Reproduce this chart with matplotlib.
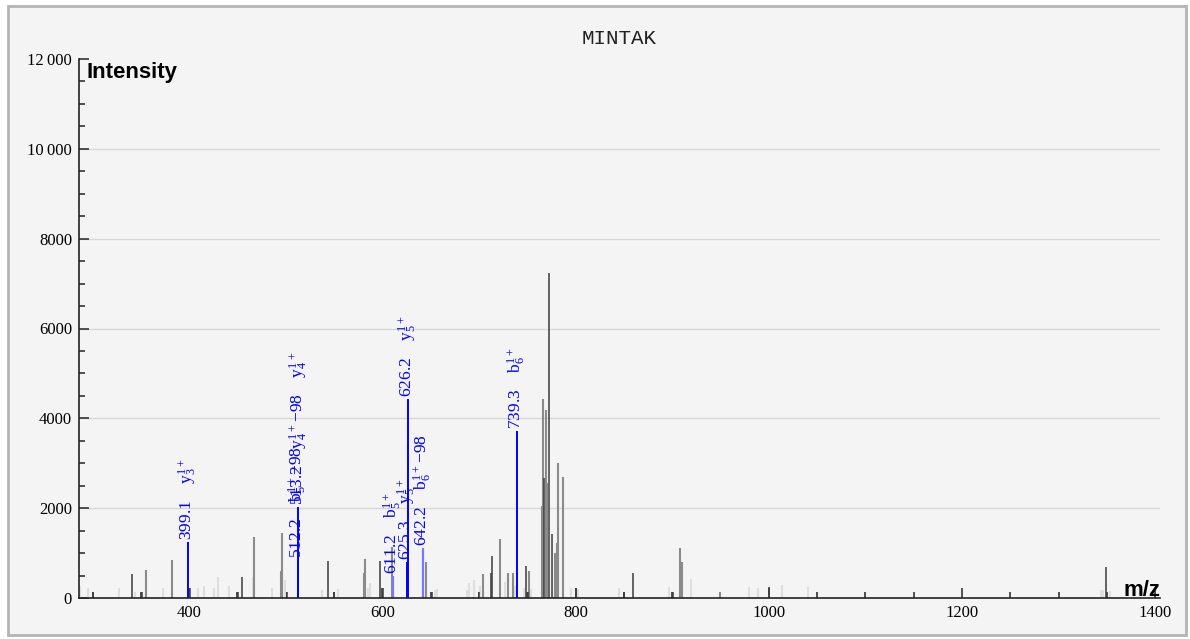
import numpy as np
import matplotlib
matplotlib.use("Agg")
import matplotlib.pyplot as plt
from matplotlib.ticker import MultipleLocator, FuncFormatter
from matplotlib.patches import Rectangle

# peptide and annotated fragment peaks
peptide = "MINTAK"

ion_mz = [399.1, 512.2, 513.2, 625.3, 626.2, 739.3]
ion_int = [1254, 850, 2030, 800, 4430, 3727]
ion_names = [r"$\mathrm{y_3^{1+}}$",
             r"$\mathrm{b_5^{1+}}$−98",
             r"$\mathrm{y_4^{1+}}$−98    $\mathrm{y_4^{1+}}$",
             r"$\mathrm{y_5^{1+}}$",
             r"$\mathrm{y_5^{1+}}$",
             r"$\mathrm{b_6^{1+}}$"]

faint_ion_mz = [611.2, 642.2]
faint_ion_int = [490, 1113]
faint_ion_names = [r"$\mathrm{b_5^{1+}}$", r"$\mathrm{b_6^{1+}}$−98"]

# unannotated peaks, grouped by how dark they are drawn
dark_mz = [301, 341, 351, 401, 451, 455, 501, 544, 550, 597.5, 601, 651, 700.5,
           712, 713.8, 748.7, 750.4, 767.7, 772.2, 775.9, 800.4, 850.4, 859.7,
           900.4, 1000.1, 1348.8]
dark_int = [140, 534, 140, 230, 140, 460, 140, 824, 140, 824, 230, 140, 140,
            550, 942, 712, 140, 2680, 7242, 1417, 230, 140, 550,
            140, 238, 697]

mid_mz = [355, 382, 467.6, 495.2, 496.2, 581, 582.1, 609.5, 644.9, 704, 721.8,
          729.7, 734.9, 751.7, 765, 766, 769.2, 770.8, 778.7, 780.4, 782.1, 787,
          907.7, 910.4, 950]
mid_int = [623, 846, 1360, 608, 1454, 550, 868, 1125, 800, 527, 1313,
           563, 563, 600, 2048, 4423, 4185, 2570, 995, 1217, 2998, 2686,
           1120, 795, 140]

light_mz = [287, 295.5, 327.6, 344, 373, 409, 415.5, 426, 430, 441, 466, 485.6,
            499.3, 537.3, 554.5, 584.8, 587.2, 654.5, 657, 687.3, 690, 695, 701,
            727, 737.3, 747, 753.5, 795, 802.8, 845, 896.9, 919.7, 979.7, 988.4,
            1013.9, 1040.8, 1344.3, 1346, 1352.9]
light_int = [270, 230, 230, 140, 230, 230, 270, 230, 460, 270, 460, 230,
             400, 180, 200, 220, 330, 170, 200, 180, 330, 400, 260,
             350, 260, 230, 200, 220, 200, 230, 250, 420, 250, 230,
             280, 238, 180, 180, 160]

serif = ["Liberation Serif", "DejaVu Serif"]
plt.rcParams["font.family"] = serif
plt.rcParams["mathtext.fontset"] = "custom"
plt.rcParams["mathtext.rm"] = "Liberation Serif"

fig = plt.figure(figsize=(11.9, 6.39), dpi=100, facecolor="white")
fig.patches.append(Rectangle((8 / 1190, 4 / 639), 1178 / 1190, 629 / 639,
                             transform=fig.transFigure, facecolor="#f4f4f4",
                             edgecolor="#b4b4b4", lw=2, zorder=-1))
ax = fig.add_axes([79 / 1190, 41 / 639, 1081 / 1190, 539 / 639])
ax.set_facecolor("none")

ax.vlines(light_mz, 0, light_int, colors="#dedede", lw=1.5)
ax.vlines(mid_mz, 0, mid_int, colors="#8a8a8a", lw=1.5)
ax.vlines(dark_mz, 0, dark_int, colors="#3c3c3c", lw=1.1)
ax.vlines(faint_ion_mz, 0, faint_ion_int, colors="#7878ff", lw=1.6)
ax.vlines(ion_mz, 0, ion_int, colors="#0000ff", lw=1.4)

for mz, inten, name in zip(ion_mz + faint_ion_mz, ion_int + faint_ion_int,
                           ion_names + faint_ion_names):
    ax.annotate(f"{mz:.1f}    {name}", xy=(mz, inten), xytext=(0, 1.5),
                textcoords="offset points", rotation=90, ha="center",
                va="bottom", color="#0000ff", fontsize=12.5)

ax.set_xlim(286, 1405)
ax.set_ylim(0, 12000)
ax.xaxis.set_major_locator(MultipleLocator(200))
ax.xaxis.set_minor_locator(MultipleLocator(50))
ax.yaxis.set_major_locator(MultipleLocator(2000))
ax.yaxis.set_minor_locator(MultipleLocator(500))
ax.yaxis.set_major_formatter(FuncFormatter(
    lambda v, p: f"{int(v):,}".replace(",", "\u2009") if v >= 10000 else f"{int(v)}"))

ax.tick_params(which="both", direction="in", colors="#222222", labelsize=12,
               labelcolor="black")
ax.tick_params(which="major", length=7.5, width=1.1, pad=5)
ax.tick_params(which="minor", length=4.5, width=1.1)

for side in ["top", "right"]:
    ax.spines[side].set_visible(False)
for side in ["left", "bottom"]:
    ax.spines[side].set_color("#222222")
    ax.spines[side].set_linewidth(1.2)

# horizontal grid only inside the plot, not on the top edge
for yv in np.arange(2000, 11000, 2000):
    ax.axhline(yv, color="#d8d8d8", lw=1, zorder=0)

ax.set_title(peptide, family=["Liberation Mono", "DejaVu Sans Mono"],
             fontsize=15, color="#222222", pad=11)
ax.text(0.0065, 0.995, "Intensity", transform=ax.transAxes, ha="left", va="top",
        family=["Liberation Sans", "DejaVu Sans"], fontweight="bold", fontsize=16)
ax.text(1.0, 0.004, "m/z", transform=ax.transAxes, ha="right", va="baseline",
        family=["Liberation Sans", "DejaVu Sans"], fontweight="bold", fontsize=16)

fig.savefig("out.png", dpi=100, facecolor=fig.get_facecolor())
